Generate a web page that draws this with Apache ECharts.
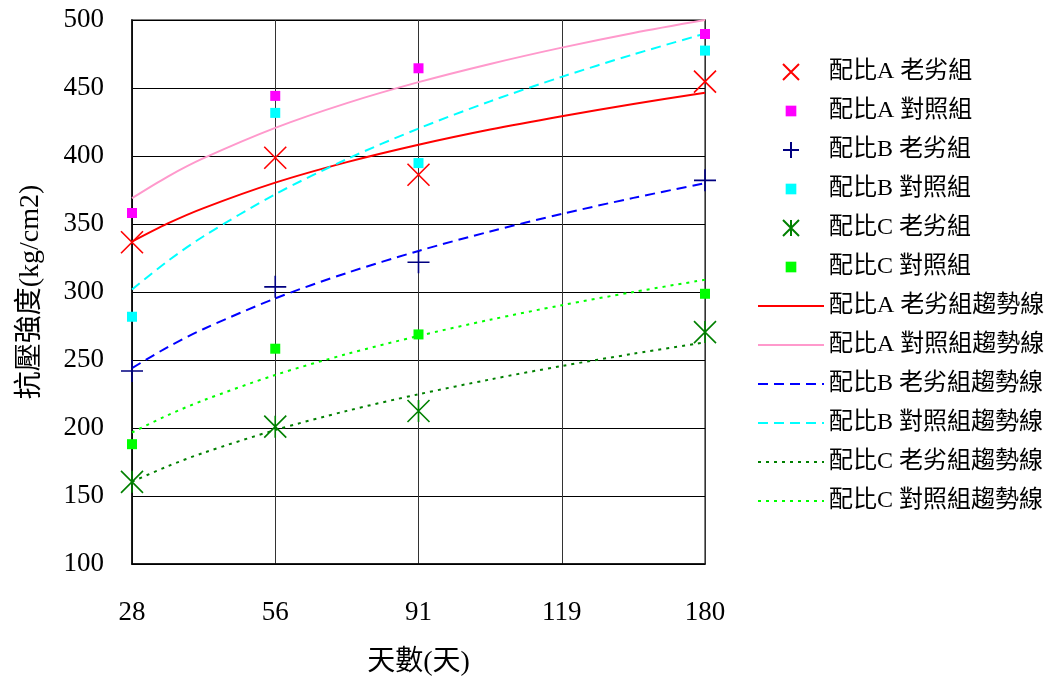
<!DOCTYPE html>
<html>
<head>
<meta charset="utf-8">
<script src="https://cdn.jsdelivr.net/npm/echarts@6/dist/echarts.min.js"></script>
<style>html,body{margin:0;padding:0;background:#fff;}#c{width:1047px;height:682px;}</style>
</head>
<body>
<div id="c"></div>
<script>
// Category tick labels (days)
const categories = ['28', '56', '91', '119', '180'];
// Category index of each measured point (119 has no measurement)
const pointX = [0, 1, 2, 4];
// Measured strengths (kg/cm2)
const aAged = [336.6, 398.7, 386.2, 454.7];
const aCtrl = [358.1, 444.2, 464.5, 489.7];
const bAged = [241.9, 303.8, 321.9, 382.1];
const bCtrl = [281.8, 431.7, 394.8, 477.5];
const cAged = [160.4, 201.0, 212.5, 270.5];
const cCtrl = [188.1, 258.3, 268.8, 298.7];
// Trend lines at these category positions
const trendX = [0, 0.25, 0.5, 1, 1.5, 2, 2.5, 3, 3.5, 4];
const aAgedTrend = [337, 350.4, 361.7, 380.4, 395.5, 408.3, 419.5, 429.3, 438.3, 446.5];
const aCtrlTrend = [369, 384.9, 398.4, 420.7, 438.9, 454.3, 467.7, 479.7, 490.5, 500];
const bAgedTrend = [244, 259.5, 272.8, 295.3, 314.0, 330.2, 344.5, 357.4, 369.2, 380];
const bCtrlTrend = [301.8, 322.8, 341.0, 371.9, 397.7, 420.2, 440.2, 458.2, 474.7, 490];
const cAgedTrend = [160.5, 171.9, 181.8, 198.5, 212.6, 224.8, 235.7, 245.6, 254.6, 263];
const cCtrlTrend = [196.7, 209.4, 220.4, 239.0, 254.4, 267.7, 279.6, 290.3, 300.0, 309];

const names = ['配比A 老劣組','配比A 對照組','配比B 老劣組','配比B 對照組','配比C 老劣組','配比C 對照組'];
const trendNames = names.map(n => n + '趨勢線');

const FONT = "'Liberation Serif', 'Noto Sans CJK TC', serif";
const SYM_X = 'path://M0,0L10,10M10,0L0,10';
const SYM_PLUS = 'path://M5,0L5,10M0,5L10,5';
const SYM_STAR = 'path://M0,0L10,10M10,0L0,10M5,0L5,10';
const SYM_SQ = 'path://M0,0M12,12M2,2L10,2L10,10L2,10Z';

function pts(xs, ys) { return xs.map((x, i) => [x, ys[i]]); }

function markSeries(name, vals, sym, color, stroke) {
  return {
    name: name, type: 'scatter', z: 5,
    symbol: sym, symbolSize: stroke ? 22 : 15,
    itemStyle: stroke ? {color: color, borderColor: color, borderWidth: 1.6, opacity: 1}
                      : {color: color, borderWidth: 0, opacity: 1},
    data: pts(pointX, vals)
  };
}
function trendSeries(name, vals, color, type) {
  return {
    name: name, type: 'line', z: 3, symbol: 'none', smooth: 0.3,
    lineStyle: {color: color, width: 2, type: type},
    itemStyle: {color: color},
    data: pts(trendX, vals)
  };
}

const series = [
  trendSeries(trendNames[0], aAgedTrend, '#FF0000', 'solid'),
  trendSeries(trendNames[1], aCtrlTrend, '#FF99CC', 'solid'),
  trendSeries(trendNames[2], bAgedTrend, '#0000FF', [10, 6]),
  trendSeries(trendNames[3], bCtrlTrend, '#00FFFF', [10, 6]),
  trendSeries(trendNames[4], cAgedTrend, '#008000', [3, 5]),
  trendSeries(trendNames[5], cCtrlTrend, '#00FF00', [3, 5]),
  markSeries(names[0], aAged, SYM_X, '#FF0000', true),
  markSeries(names[1], aCtrl, SYM_SQ, '#FF00FF', false),
  markSeries(names[2], bAged, SYM_PLUS, '#000080', true),
  markSeries(names[3], bCtrl, SYM_SQ, '#00FFFF', false),
  markSeries(names[4], cAged, SYM_STAR, '#008000', true),
  markSeries(names[5], cCtrl, SYM_SQ, '#00FF00', false)
];

const legendData = names.map(n => ({name: n})).concat(
  trendNames.map(n => ({name: n, itemStyle: {opacity: 0, color: 'rgba(0,0,0,0)', borderWidth: 0}}))
);

const chart = echarts.init(document.getElementById('c'), null, {renderer: 'canvas'});
chart.setOption({
  animation: false,
  backgroundColor: '#fff',
  textStyle: {fontFamily: FONT, color: '#000'},
  grid: {left: 132, right: 342, top: 20, bottom: 117, show: true, borderColor: '#808080', borderWidth: 2, backgroundColor: '#fff'},
  legend: {
    orient: 'vertical', left: 752, top: 55,
    itemWidth: 66, itemHeight: 16, itemGap: 15,
    textStyle: {fontFamily: FONT, fontSize: 24, lineHeight: 24, color: '#000'},
    data: legendData
  },
  xAxis: {
    type: 'value', min: 0, max: 4, interval: 1,
    name: '天數(天)', nameLocation: 'middle', nameGap: 85,
    nameTextStyle: {fontFamily: FONT, fontSize: 28, color: '#000'},
    axisLine: {show: true, onZero: false, lineStyle: {color: '#000', width: 1.5}},
    axisTick: {show: false},
    axisLabel: {fontFamily: FONT, fontSize: 27, color: '#000', margin: 35,
      formatter: v => categories[Math.round(v)]},
    splitLine: {show: true, lineStyle: {color: '#333', width: 1}}
  },
  yAxis: {
    type: 'value', min: 100, max: 500, interval: 50,
    name: '抗壓強度(kg/cm2)', nameLocation: 'middle', nameGap: 87,
    nameTextStyle: {fontFamily: FONT, fontSize: 28, color: '#000'},
    axisLine: {show: true, lineStyle: {color: '#000', width: 1.5}},
    axisTick: {show: false},
    axisLabel: {fontFamily: FONT, fontSize: 27, color: '#000', margin: 28},
    splitLine: {show: true, lineStyle: {color: '#000', width: 1}}
  },
  series: series
});
</script>
</body>
</html>
